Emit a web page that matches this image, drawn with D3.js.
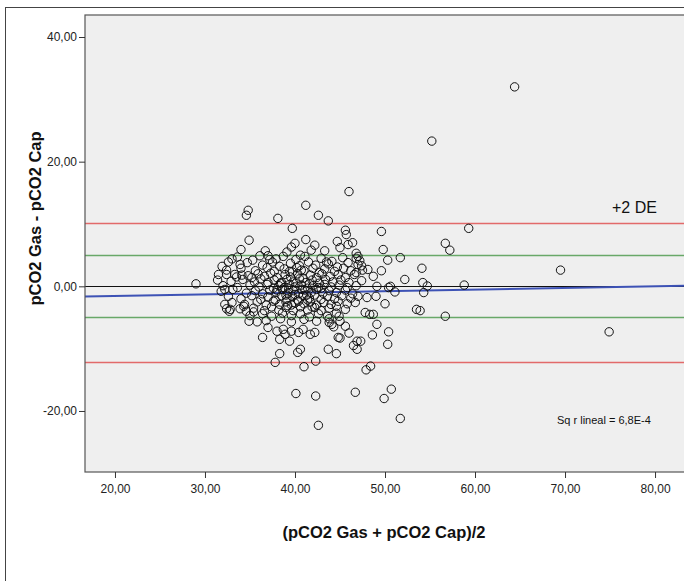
<!DOCTYPE html>
<html>
<head>
<meta charset="utf-8">
<script src="https://cdn.jsdelivr.net/npm/d3@7"></script>
<style>
  body { margin: 0; background: #fff; }
  svg { display: block; font-family: "Liberation Sans", Arial, sans-serif; }
</style>
</head>
<body>
<svg id="chart" width="684" height="581"></svg>
<script>
// ticks
const xTicks = [20, 30, 40, 50, 60, 70, 80];
const yTicks = [-20, 0, 20, 40];

// reference lines (mean +/- 2 DE, clinical limits, zero)
const redLines = [10.2, -12.1];
const greenLines = [5, -4.9];
const zeroLine = 0;

// linear fit shown by SPSS
const fitIntercept = -2.08;
const fitSlope = 0.026;

// [mean, difference]
const points = [
  [64.4, 32.0], [55.2, 23.3], [69.5, 2.6], [74.9, -7.3], [59.3, 9.3], [56.7, 6.9],
  [57.2, 5.8], [54.1, 2.9], [54.2, 0.6], [54.7, 0.05], [54.3, -1.0], [58.8, 0.2],
  [53.9, -3.9], [56.7, -4.8], [52.2, 1.1], [51.7, 4.6], [50.3, 4.2], [49.8, 5.9],
  [49.6, 8.8], [46.0, 15.2], [41.2, 13.0], [42.6, 11.4], [43.7, 10.5], [45.6, 9.0],
  [45.7, 8.3], [41.2, 7.5], [42.2, 6.6], [41.8, 5.8], [44.7, 7.2], [45.0, 6.2],
  [45.9, 6.7], [46.4, 7.0], [43.3, 5.7], [46.8, 5.3], [47.0, 4.8], [46.8, 4.5],
  [34.8, 12.2], [34.6, 11.4], [38.1, 10.9], [39.7, 9.3], [34.9, 7.4], [34.0, 5.9],
  [33.0, 4.4], [32.6, 3.9], [36.7, 5.7], [40.0, 6.9], [39.6, 6.3], [39.1, 5.5],
  [37.0, 4.9], [37.2, 4.3], [29.0, 0.4],
  [31.5, 1.9], [31.4, 1.0], [32.4, 1.9], [33.3, 1.9], [34.1, 1.8], [34.8, 1.7],
  [35.2, 1.4], [32.2, -0.5], [33.1, -0.5], [32.2, -2.9], [32.4, -3.6], [32.8, -3.7],
  [33.9, -3.6], [34.3, -3.2], [32.7, -4.0], [34.6, -4.0], [35.4, -4.1],
  [34.9, -5.6], [35.8, -5.7], [36.4, -8.2], [37.8, -12.2], [38.3, -10.8], [37.0, -6.6],
  [38.0, -7.2], [38.3, -8.5], [38.7, -6.9], [38.9, -7.7], [39.4, -8.8], [39.6, -7.2],
  [40.4, -7.4], [40.6, -10.1], [40.3, -10.6], [41.0, -12.9], [42.3, -12.0],
  [42.3, -17.6], [40.1, -17.2], [43.7, -10.1], [44.6, -10.8], [46.7, -17.0],
  [47.9, -13.4], [48.4, -12.8], [48.6, -7.8], [46.5, -9.5], [47.3, -8.8], [46.9, -10.1],
  [46.9, -8.8], [44.8, -8.2], [45.0, -8.3], [41.7, -7.7], [42.2, -7.4], [40.9, -6.9],
  [45.6, -6.4], [46.0, -7.5], [43.8, -5.8], [44.1, -6.1], [44.3, -6.5], [44.9, -4.8],
  [49.1, -6.1], [50.4, -7.3], [50.3, -9.3], [50.7, -16.5], [49.9, -18.0], [51.7, -21.2],
  [42.6, -22.3], [47.8, -4.2], [48.3, -4.5], [48.7, -4.5], [53.5, -3.7],
  [48.0, -1.8], [47.0, -1.6], [49.0, -1.6], [46.7, -2.6], [50.0, -2.8], [51.1, -0.9],
  [49.1, 0.0], [50.6, 0.0], [50.4, -0.2], [48.7, 1.6], [49.6, 2.5], [46.6, 1.9],
  [46.8, 2.2], [47.4, 3.3], [47.2, 4.1], [47.5, 2.6],
  // dense centre
  [33.6, 4.7], [35.3, 4.2], [36.1, 4.9], [37.9, 4.4], [38.7, 4.8], [40.1, 4.3],
  [41.1, 4.8], [42.9, 4.5], [44.1, 4.0], [45.3, 4.6], [43.5, 3.9], [40.6, 5.0],
  [31.9, 3.2], [33.9, 3.5], [34.7, 3.8], [36.4, 3.4], [37.5, 3.9], [38.3, 3.2],
  [39.5, 3.7], [40.5, 3.3], [41.5, 3.9], [42.3, 3.4], [43.7, 3.6], [44.7, 3.1],
  [45.9, 3.8], [47.0, 3.5],
  [32.4, 2.6], [34.0, 2.9], [35.6, 2.5], [36.9, 3.0], [37.7, 2.4], [38.8, 2.8],
  [39.7, 2.3], [40.2, 3.0], [41.0, 2.5], [42.0, 2.9], [42.7, 2.2], [43.3, 2.8],
  [44.4, 2.4], [45.4, 2.9], [46.2, 2.5], [48.1, 2.7],
  [33.5, 1.5], [35.9, 2.0], [36.6, 1.6], [37.3, 2.1], [38.0, 1.4], [38.9, 1.9],
  [39.5, 1.5], [40.3, 2.0], [40.9, 1.3], [41.7, 1.8], [42.4, 1.4], [43.0, 2.0],
  [43.9, 1.6], [44.8, 1.9], [45.6, 1.4],
  [32.9, 0.8], [34.2, 1.1], [35.5, 0.7], [36.2, 1.2], [37.0, 0.6], [37.7, 1.0],
  [38.4, 0.5], [39.1, 1.1], [39.8, 0.7], [40.5, 1.2], [41.2, 0.6], [41.9, 1.0],
  [42.7, 0.5], [43.4, 1.1], [44.2, 0.7], [45.1, 1.0], [46.0, 0.6], [47.4, 0.9],
  [32.0, 0.1], [33.6, -0.2], [35.0, 0.2], [36.0, -0.1], [36.9, 0.3], [37.6, -0.3],
  [38.2, 0.1], [38.8, -0.2], [39.4, 0.3], [40.0, -0.1], [40.7, 0.2], [41.4, -0.3],
  [42.0, 0.1], [42.6, -0.2], [43.3, 0.3], [44.0, -0.1], [44.9, 0.2], [45.8, -0.2],
  [46.8, 0.1],
  [31.8, -0.8], [34.6, -1.1], [35.6, -0.7], [36.4, -1.2], [37.2, -0.6], [37.9, -1.0],
  [38.6, -0.5], [39.2, -1.1], [39.8, -0.7], [40.4, -1.2], [41.1, -0.6], [41.8, -1.0],
  [42.4, -0.5], [43.1, -1.1], [43.8, -0.7], [44.6, -1.0], [45.6, -0.6], [46.4, -1.2],
  [32.6, -1.6], [34.0, -2.0], [35.2, -1.5], [36.2, -2.1], [37.0, -1.7], [37.8, -2.2],
  [38.5, -1.5], [39.1, -2.0], [39.7, -1.6], [40.3, -2.2], [40.9, -1.5], [41.6, -1.9],
  [42.2, -1.4], [42.9, -2.1], [43.6, -1.6], [44.4, -2.0], [45.2, -1.5], [46.2, -1.9],
  [33.0, -2.6], [34.4, -2.9], [35.8, -2.5], [36.8, -3.0], [37.6, -2.4], [38.3, -2.9],
  [39.0, -2.5], [39.6, -3.0], [40.4, -2.4], [41.0, -2.8], [41.7, -2.5], [42.4, -3.0],
  [43.2, -2.6], [44.0, -2.9], [44.8, -2.4], [45.8, -2.8],
  [35.4, -3.5], [36.6, -3.9], [37.4, -3.3], [38.2, -3.8], [39.0, -3.4], [39.8, -3.9],
  [40.6, -3.3], [41.4, -3.8], [42.2, -3.4], [42.9, -3.9], [43.8, -3.5], [44.6, -3.2],
  [45.6, -3.7],
  [35.0, -4.7], [36.4, -4.4], [37.4, -4.8], [38.6, -4.3], [39.6, -4.7], [40.6, -4.4],
  [41.6, -4.9], [42.6, -4.4], [43.6, -4.8], [44.6, -4.3],
  [36.8, -5.5], [38.4, -5.2], [39.6, -5.7], [41.0, -5.3], [42.4, -5.6], [43.8, -5.2],
  [45.0, -5.6],
  [38.5, 0.6], [39.3, -0.4], [40.1, 0.5], [40.8, -0.5], [41.6, 0.4], [39.0, -1.4],
  [40.0, -1.3], [41.3, -1.4], [39.4, 2.4], [40.7, 2.6], [41.4, -2.2], [40.0, -2.7],
  [39.2, -3.1], [41.9, -3.3], [42.9, -0.3], [38.0, -0.6]
];

const svg = d3.select('#chart');

const plot = { left: 85, top: 15, right: 686, bottom: 472 };

const x = d3.scaleLinear()
  .domain([16.67, 83.44])
  .range([plot.left, plot.right]);

const y = d3.scaleLinear()
  .domain([-29.79, 43.53])
  .range([plot.bottom, plot.top]);

const fmt = d => d.toFixed(2).replace('.', ',');

// outer frame
svg.append('rect')
  .attr('x', 5.5).attr('y', 7.5)
  .attr('width', 700).attr('height', 600)
  .attr('fill', 'none')
  .attr('stroke', '#444')
  .attr('stroke-width', 1);

// plot background
svg.append('rect')
  .attr('x', plot.left).attr('y', plot.top)
  .attr('width', plot.right - plot.left)
  .attr('height', plot.bottom - plot.top)
  .attr('fill', '#efefef');

svg.append('clipPath').attr('id', 'clip')
  .append('rect')
  .attr('x', plot.left).attr('y', plot.top)
  .attr('width', plot.right - plot.left)
  .attr('height', plot.bottom - plot.top);

const g = svg.append('g').attr('clip-path', 'url(#clip)');

g.selectAll('line.red')
  .data(redLines)
  .enter().append('line')
  .attr('class', 'red')
  .attr('x1', plot.left).attr('x2', plot.right)
  .attr('y1', d => Math.round(y(d)) + 0.5).attr('y2', d => Math.round(y(d)) + 0.5)
  .attr('stroke', '#e26a6a')
  .attr('stroke-width', 1.5);

g.selectAll('line.green')
  .data(greenLines)
  .enter().append('line')
  .attr('class', 'green')
  .attr('x1', plot.left).attr('x2', plot.right)
  .attr('y1', d => Math.round(y(d)) + 0.5).attr('y2', d => Math.round(y(d)) + 0.5)
  .attr('stroke', '#68a868')
  .attr('stroke-width', 1.3);

g.append('line')
  .attr('x1', plot.left).attr('x2', plot.right)
  .attr('y1', Math.round(y(zeroLine)) + 0.5).attr('y2', Math.round(y(zeroLine)) + 0.5)
  .attr('stroke', '#111')
  .attr('stroke-width', 1);

g.append('line')
  .attr('x1', plot.left).attr('x2', plot.right)
  .attr('y1', y(fitIntercept + fitSlope * x.domain()[0]))
  .attr('y2', y(fitIntercept + fitSlope * x.domain()[1]))
  .attr('stroke', '#3d52b5')
  .attr('stroke-width', 2);

g.selectAll('circle')
  .data(points)
  .enter().append('circle')
  .attr('cx', d => x(d[0]))
  .attr('cy', d => y(d[1]))
  .attr('r', 4.2)
  .attr('fill', 'none')
  .attr('stroke', '#111')
  .attr('stroke-width', 1);

// plot frame
svg.append('rect')
  .attr('x', plot.left).attr('y', plot.top)
  .attr('width', plot.right - plot.left + 10)
  .attr('height', plot.bottom - plot.top)
  .attr('fill', 'none')
  .attr('stroke', '#555')
  .attr('stroke-width', 1.2);

// axes
const xAxis = svg.append('g')
  .attr('transform', `translate(0,${plot.bottom})`)
  .call(d3.axisBottom(x).tickValues(xTicks).tickSize(6).tickPadding(6).tickFormat(fmt));
xAxis.select('.domain').remove();

const yAxis = svg.append('g')
  .attr('transform', `translate(${plot.left},0)`)
  .call(d3.axisLeft(y).tickValues(yTicks).tickSize(6).tickPadding(2).tickFormat(fmt));
yAxis.select('.domain').remove();

svg.selectAll('.tick text')
  .attr('font-size', 12)
  .attr('font-family', '"Liberation Sans", Arial, sans-serif')
  .attr('fill', '#222');
svg.selectAll('.tick line').attr('stroke', '#333');

// titles
svg.append('text')
  .attr('x', 384).attr('y', 538)
  .attr('text-anchor', 'middle')
  .attr('font-size', 16.5)
  .attr('font-weight', 'bold')
  .attr('fill', '#111')
  .text('(pCO2 Gas + pCO2 Cap)/2');

svg.append('text')
  .attr('transform', `translate(41,${(plot.top + plot.bottom) / 2 - 25}) rotate(-90)`)
  .attr('text-anchor', 'middle')
  .attr('font-size', 16.5)
  .attr('font-weight', 'bold')
  .attr('fill', '#111')
  .text('pCO2 Gas - pCO2 Cap');

// annotations
svg.append('text')
  .attr('x', 612).attr('y', 213)
  .attr('font-size', 16)
  .attr('fill', '#111')
  .text('+2 DE');

svg.append('text')
  .attr('x', 557).attr('y', 424)
  .attr('font-size', 11)
  .attr('fill', '#111')
  .text('Sq r lineal = 6,8E-4');
</script>
</body>
</html>
